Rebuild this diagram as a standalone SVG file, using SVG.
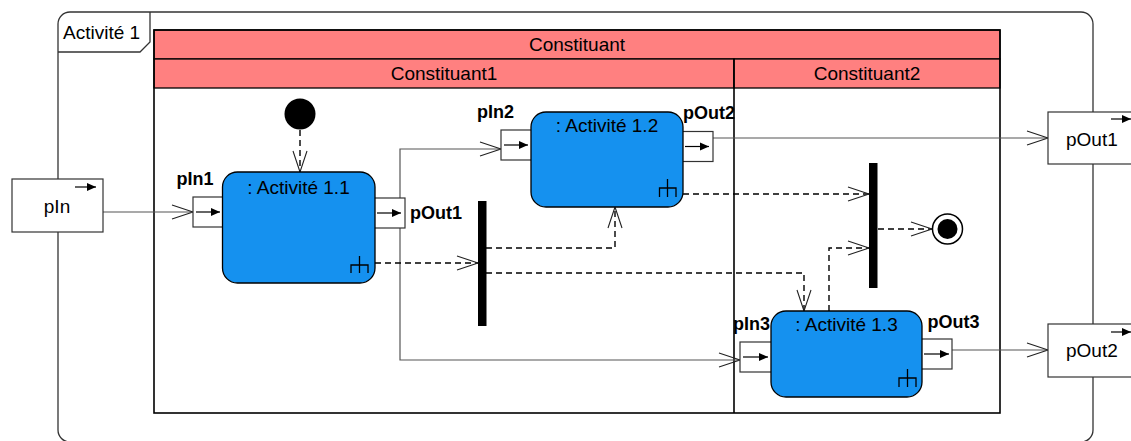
<svg xmlns="http://www.w3.org/2000/svg" width="1131" height="441" viewBox="0 0 1131 441">
<style>
text{font-family:"Liberation Sans",Arial,sans-serif;fill:#000}
.t{font-size:19px}
.c{text-anchor:middle}
.b{font-size:18px;font-weight:bold}
.frame{fill:none;stroke:#333;stroke-width:1.3}
.part{fill:none;stroke:#000;stroke-width:1.6}
.hdr{fill:#FF8080;stroke:#000;stroke-width:1.3}
.act{fill:#1591EF;stroke:#000;stroke-width:1.3}
.pin{fill:#fff;stroke:#333;stroke-width:1.2}
.prm{fill:#fff;stroke:#333;stroke-width:1.2}
.flow{fill:none;stroke:#555;stroke-width:1.2;marker-end:url(#open)}
.ctl{fill:none;stroke:#000;stroke-width:1.4;stroke-dasharray:6 4;marker-end:url(#open)}
.ia{stroke:#000;stroke-width:1.2;marker-end:url(#fill)}
.rake{fill:none;stroke:#000;stroke-width:1.3}
</style>
<defs>
<marker id="open" markerUnits="userSpaceOnUse" markerWidth="24" markerHeight="18" viewBox="-22 -9 24 18" refX="0" refY="0" orient="auto">
<path d="M-21,-7 L0,0 L-21,7" fill="none" stroke="#222" stroke-width="1.1"/>
</marker>
<marker id="fill" markerUnits="userSpaceOnUse" markerWidth="12" markerHeight="10" viewBox="-10 -5 12 10" refX="0" refY="0" orient="auto">
<path d="M-9,-4 L0,0 L-9,4 Z" fill="#000"/>
</marker>
</defs>

<g id="activite1">
<rect x="58" y="12" width="1035" height="430" rx="12" ry="12" class="frame"/>
<path d="M58,52 H140 L150,42 V12" class="frame"/>
<text x="63" y="39" class="t">Activité 1</text>
</g>

<g id="partitions">
<rect x="154" y="30" width="846" height="29" class="hdr"/>
<rect x="154" y="59" width="580" height="29" class="hdr"/>
<rect x="734" y="59" width="266" height="29" class="hdr"/>
<rect x="154" y="30" width="846" height="383" class="part"/>
<line x1="734" y1="59" x2="734" y2="413" class="part"/>
<text x="577" y="51" class="t c">Constituant</text>
<text x="444" y="80" class="t c">Constituant1</text>
<text x="867" y="80" class="t c">Constituant2</text>
</g>

<g id="connectors">
<path d="M103,212 H193" class="flow"/>
<path d="M400,198 V149 H501" class="flow"/>
<path d="M400,228 V360 H740" class="flow"/>
<path d="M713,138 H1048" class="flow"/>
<path d="M952,350 H1048" class="flow"/>
<path d="M300,130 V172" class="ctl"/>
<path d="M375,263 H478" class="ctl"/>
<path d="M486,248 H615 V207" class="ctl"/>
<path d="M486,273 H804 V311" class="ctl"/>
<path d="M683,194 H869" class="ctl"/>
<path d="M829,311 V248 H869" class="ctl"/>
<path d="M878,229 H932" class="ctl"/>
</g>

<g id="initial">
<circle cx="300" cy="114" r="15.5" fill="#000"/>
</g>

<g id="final">
<circle cx="947.5" cy="229" r="15" fill="#fff" stroke="#000" stroke-width="1.5"/>
<circle cx="947.5" cy="229" r="10" fill="#000"/>
</g>

<g id="fork1">
<rect x="478" y="201" width="8.5" height="125" fill="#000"/>
</g>
<g id="fork2">
<rect x="869" y="163" width="8.5" height="125" fill="#000"/>
</g>

<g id="pIn">
<rect x="12" y="179" width="91" height="53" class="prm"/>
<line x1="75" y1="187" x2="96" y2="187" class="ia"/>
<text x="57" y="213" class="t c">pIn</text>
</g>

<g id="pOut1">
<rect x="1048" y="112" width="91" height="52" class="prm"/>
<line x1="1111" y1="119" x2="1131" y2="119" class="ia"/>
<text x="1066" y="146" class="t">pOut1</text>
</g>

<g id="pOut2">
<rect x="1048" y="324" width="91" height="53" class="prm"/>
<line x1="1111" y1="332" x2="1131" y2="332" class="ia"/>
<text x="1066" y="357" class="t">pOut2</text>
</g>

<g id="activite11">
<rect x="193" y="197" width="32" height="30" class="pin"/>
<line x1="196" y1="212" x2="220" y2="212" class="ia"/>
<rect x="372" y="198" width="33" height="30" class="pin"/>
<line x1="377" y1="213" x2="401" y2="213" class="ia"/>
<rect x="222.5" y="172" width="152.5" height="111" rx="15" ry="15" class="act"/>
<path d="M351,273 V265 H368 V273 M359.5,256 V273" class="rake"/>
<text x="298.5" y="194" class="t c">: Activité 1.1</text>
<text x="176.5" y="185" class="b">pIn1</text>
<text x="410" y="219" class="b">pOut1</text>
</g>

<g id="activite12">
<rect x="501" y="130" width="32" height="30" class="pin"/>
<line x1="504" y1="145" x2="528" y2="145" class="ia"/>
<rect x="680" y="131.5" width="33" height="30" class="pin"/>
<line x1="685" y1="146.5" x2="709" y2="146.5" class="ia"/>
<rect x="531" y="112" width="152" height="95" rx="15" ry="15" class="act"/>
<path d="M659.5,197 V188 H676 V197 M667.5,179 V197" class="rake"/>
<text x="607" y="132" class="t c">: Activité 1.2</text>
<text x="477" y="118" class="b">pIn2</text>
<text x="683" y="119" class="b">pOut2</text>
</g>

<g id="activite13">
<rect x="740" y="342" width="33" height="30" class="pin"/>
<line x1="743" y1="357" x2="768" y2="357" class="ia"/>
<rect x="919" y="339" width="33" height="30" class="pin"/>
<line x1="924" y1="354" x2="949" y2="354" class="ia"/>
<rect x="771" y="311" width="151" height="86" rx="15" ry="15" class="act"/>
<path d="M899,387 V378 H916 V387 M907.5,369 V387" class="rake"/>
<text x="846.5" y="331" class="t c">: Activité 1.3</text>
<text x="733" y="330" class="b">pIn3</text>
<text x="927.5" y="328" class="b">pOut3</text>
</g>
</svg>
